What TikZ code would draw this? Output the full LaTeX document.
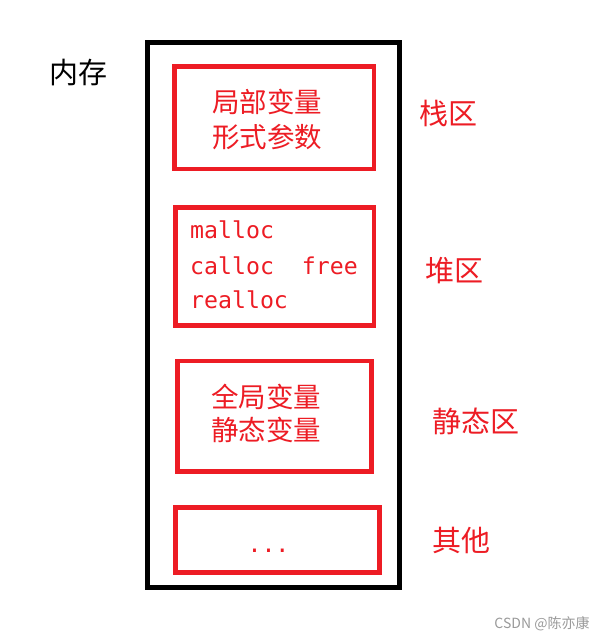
\documentclass[tikz,border=0pt]{standalone}
\usepackage{fontspec}
\newfontfamily\cjkf{Noto Sans CJK SC}
\newfontfamily\monof{DejaVu Sans Mono}
\definecolor{pred}{HTML}{ED1C24}
\definecolor{wmgray}{HTML}{9A9A9A}
\begin{document}
\begin{tikzpicture}[x=1pt,y=-1pt,
  outerbox/.style={draw=black,line width=5pt,inner sep=0pt,outer sep=0pt},
  redbox/.style={draw=pred,line width=4.5pt,inner sep=0pt,outer sep=0pt},
  cjktext/.style={text=pred,font=\cjkf\fontsize{27.5}{27.5}\selectfont,anchor=base,inner sep=0pt},
  monotext/.style={text=pred,font=\monof\fontsize{23.2}{23.2}\selectfont,anchor=base west,inner sep=0pt},
  label/.style={text=pred,font=\cjkf\fontsize{29}{29}\selectfont,anchor=base,inner sep=0pt}]
\useasboundingbox[fill=white] (0,0) rectangle (607,641);
% outer memory box
\node[outerbox,minimum width=252pt,minimum height=545pt] (mem) at (273.5,315) {};
% red boxes
\node[redbox,minimum width=199.3pt,minimum height=102.5pt] (stack) at (274.15,117.75) {};
\node[redbox,minimum width=198.3pt,minimum height=118pt] (heap) at (274.65,266.5) {};
\node[redbox,minimum width=194.2pt,minimum height=110.7pt] (static) at (274.6,416.15) {};
\node[redbox,minimum width=204pt,minimum height=65pt] (other) at (277.5,540) {};
% box texts
\node[cjktext] (s1) at (267.4,112.3) {局部变量};
\node[cjktext] (s2) at (267.4,147.6) {形式参数};
\node[monotext] (h1) at (190,238.5) {malloc};
\node[monotext] (h2) at (190,274) {calloc\ \ free};
\node[monotext] (h3) at (190,308.5) {realloc};
\node[cjktext] (t1) at (266.4,407.3) {全局变量};
\node[cjktext] (t2) at (266.4,440.6) {静态变量};
\node[text=pred,font=\monof\fontsize{23.2}{23.2}\selectfont,anchor=base,inner sep=0pt] (o1) at (268.5,552) {...};
% labels
\node[label,text=black] (memlbl) at (78,83) {内存};
\node[label] (stacklbl) at (448,124.5) {栈区};
\node[label] (heaplbl) at (454,281) {堆区};
\node[label] (staticlbl) at (475.5,432) {静态区};
\node[label] (otherlbl) at (461,551.5) {其他};
% watermark
\node[text=wmgray,font=\cjkf\fontsize{14}{14}\selectfont,anchor=base,inner sep=0pt] (wm) at (542,628) {CSDN @陈亦康};
\end{tikzpicture}
\end{document}
